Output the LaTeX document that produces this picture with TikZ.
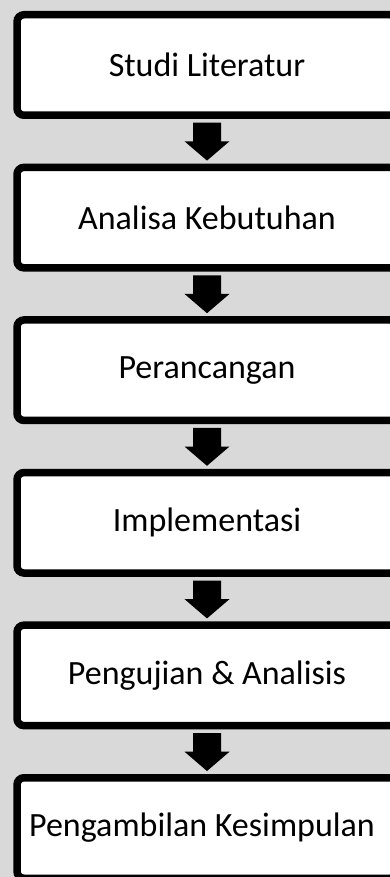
\documentclass[tikz,border=0pt]{standalone}
\usepackage{fontspec}
\setmainfont{Carlito}
\usetikzlibrary{calc,shadows}
\definecolor{bg}{HTML}{D9D9D9}
\tikzset{
  stepbox/.style={draw=black, fill=white, line width=7.5pt, rounded corners=7pt,
    minimum width=380pt, minimum height=100.5pt, inner sep=0pt,
    font=\fontsize{34}{37}\selectfont,
    drop shadow={opacity=0.22, shadow xshift=1.5pt, shadow yshift=-3pt}},
}
\newcommand\blockarrow[2]{%
  \fill[black] let \p1=(#1.south), \p2=(#2.north) in
    (\x1-14pt,\y1-3.7pt) -- (\x1+14pt,\y1-3.7pt) -- (\x1+14pt,\y2+22.3pt)
    -- (\x1+22.5pt,\y2+22.3pt) -- (\x1,\y2+3pt) -- (\x1-22.5pt,\y2+22.3pt)
    -- (\x1-14pt,\y2+22.3pt) -- cycle;}
\begin{document}
\begin{tikzpicture}[x=1pt,y=1pt]
\useasboundingbox (0,0) rectangle (390,-877);
\clip (0,0) rectangle (390,-877);
\fill[bg] (0,0) rectangle (390,-877);
\node[stepbox] (b1) at (207,-65) {Studi Literatur};
\node[stepbox] (b2) at (207,-217.6) {Analisa Kebutuhan};
\node[stepbox] (b3) at (207,-370.2) {Perancangan};
\node[stepbox] (b4) at (207,-522.8) {Implementasi};
\node[stepbox] (b5) at (207,-675.4) {Pengujian \& Analisis};
\node[stepbox] (b6) at (207,-828) {\hspace*{-10pt}Pengambilan Kesimpulan};
\blockarrow{b1}{b2}
\blockarrow{b2}{b3}
\blockarrow{b3}{b4}
\blockarrow{b4}{b5}
\blockarrow{b5}{b6}
\end{tikzpicture}
\end{document}
